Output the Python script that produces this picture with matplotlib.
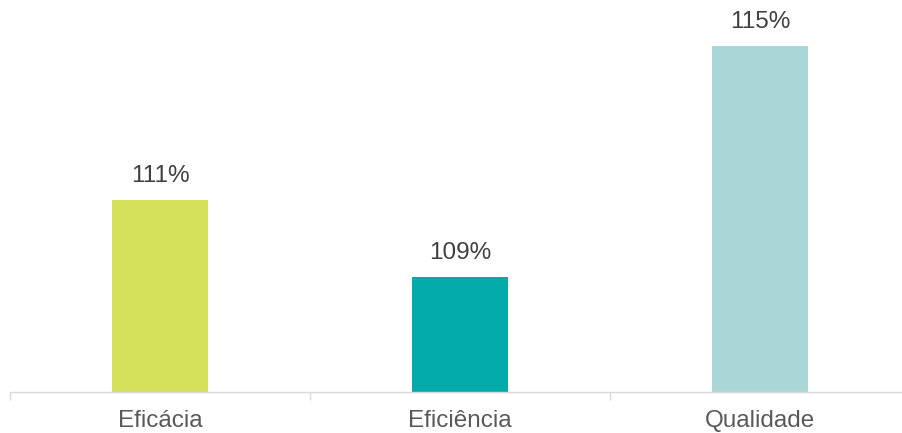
import matplotlib

matplotlib.use("Agg")

import matplotlib.pyplot as plt

categories = ["Eficácia", "Eficiência", "Qualidade"]
values = [111, 109, 115]
labels = ["111%", "109%", "115%"]
colors = ["#D4DF5A", "#03AAAA", "#A9D6D6"]

plt.rcParams["font.family"] = ["Liberation Sans", "DejaVu Sans"]

W, H = 902, 433
fig = plt.figure(figsize=(W / 100, H / 100), dpi=100)
# axes spans x 10..910 px, y 0..392 px (from top)
ax = fig.add_axes([10 / W, (H - 392) / H, 900 / W, 392 / H])

x = list(range(len(categories)))
ax.bar(x, values, width=0.317, color=colors, bottom=0)
ax.set_xlim(-0.5, 2.5)
ax.set_ylim(106, 106 + 392 / 38.5)

for xi, v, lab in zip(x, values, labels):
    ax.annotate(lab, (xi, v), xytext=(0, 12.5), textcoords="offset points",
                ha="center", va="baseline", fontsize=17.5, color="#404040")

for s in ["top", "right", "left"]:
    ax.spines[s].set_visible(False)
ax.spines["bottom"].set_color("#D9D9D9")
ax.spines["bottom"].set_linewidth(1.0)

ax.set_yticks([])
ax.set_xticks([-0.5, 0.5, 1.5, 2.5])
ax.set_xticklabels([])
ax.set_xticks(x, minor=True)
ax.set_xticklabels(categories, minor=True, fontsize=17.5, color="#595959")
ax.tick_params(axis="x", which="major", length=6, color="#D9D9D9", width=1.0)
ax.tick_params(axis="x", which="minor", length=0, pad=13)

fig.savefig("out.png", dpi=100)
